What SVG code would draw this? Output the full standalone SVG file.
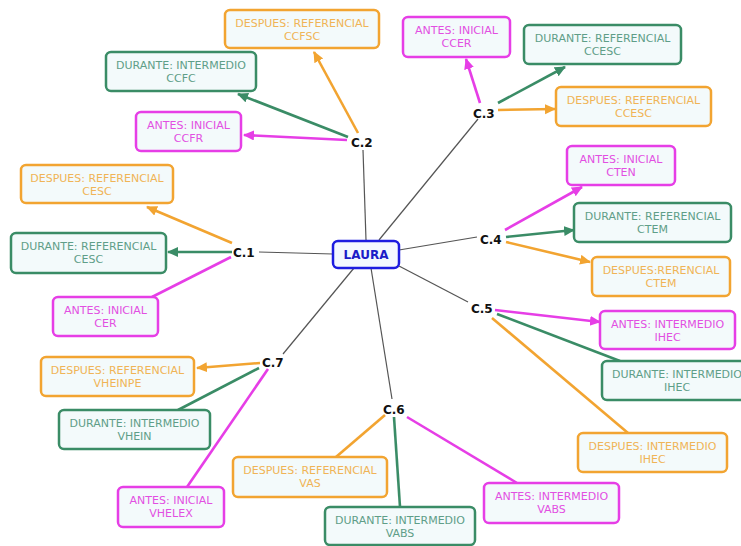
<svg xmlns="http://www.w3.org/2000/svg" width="741" height="546" viewBox="0 0 741 546">
  <style>
    .box { fill: #f3fafb; stroke-width: 2.5; }
    .o { stroke: #f2a431; }
    .g { stroke: #3a8c66; }
    .m { stroke: #e63ee6; }
    .t { font-family: "DejaVu Sans", Verdana, sans-serif; font-size: 11px; text-anchor: middle; }
    .to { fill: #f0b456; }
    .tg { fill: #5f9e88; }
    .tm { fill: #e24fe2; }
    .hub { font-family: "DejaVu Sans", Verdana, sans-serif; font-size: 12px; font-weight: bold; fill: #111; }
    .trunk { stroke: #555; stroke-width: 1.2; fill: none; }
    .lo { stroke: #f2a431; stroke-width: 2.6; fill: none; }
    .lg { stroke: #3a8c66; stroke-width: 2.6; fill: none; }
    .lm { stroke: #e63ee6; stroke-width: 2.6; fill: none; }
  </style>
  <defs>
    <marker id="ao" markerUnits="userSpaceOnUse" markerWidth="12" markerHeight="11" refX="10" refY="5" orient="auto">
      <path d="M0,0 L11,5 L0,10 z" fill="#f2a431"/>
    </marker>
    <marker id="ag" markerUnits="userSpaceOnUse" markerWidth="12" markerHeight="11" refX="10" refY="5" orient="auto">
      <path d="M0,0 L11,5 L0,10 z" fill="#3a8c66"/>
    </marker>
    <marker id="am" markerUnits="userSpaceOnUse" markerWidth="12" markerHeight="11" refX="10" refY="5" orient="auto">
      <path d="M0,0 L11,5 L0,10 z" fill="#e63ee6"/>
    </marker>
  </defs>

  <rect width="741" height="546" fill="#ffffff"/>

  <!-- connectors -->
  <g id="connectors">
    <!-- trunk lines from the centre -->
    <line class="trunk" x1="333" y1="254" x2="259" y2="252"/>
    <line class="trunk" x1="366" y1="240" x2="363" y2="150"/>
    <line class="trunk" x1="379" y1="240" x2="478" y2="119"/>
    <line class="trunk" x1="399" y1="250" x2="477" y2="237"/>
    <line class="trunk" x1="399" y1="266" x2="468" y2="302"/>
    <line class="trunk" x1="371" y1="268" x2="392" y2="399"/>
    <line class="trunk" x1="354" y1="268" x2="283" y2="354"/>

    <!-- C.1 -->
    <line class="lo" x1="232" y1="243" x2="147" y2="207" marker-end="url(#ao)"/>
    <line class="lg" x1="232" y1="252" x2="168" y2="252" marker-end="url(#ag)"/>
    <line class="lm" x1="231" y1="257" x2="152" y2="297"/>
    <!-- C.2 -->
    <line class="lo" x1="358" y1="133" x2="314" y2="52" marker-end="url(#ao)"/>
    <line class="lg" x1="348" y1="137" x2="238" y2="94" marker-end="url(#ag)"/>
    <line class="lm" x1="347" y1="140" x2="244" y2="135" marker-end="url(#am)"/>
    <!-- C.3 -->
    <line class="lm" x1="480" y1="103" x2="466" y2="59" marker-end="url(#am)"/>
    <line class="lg" x1="498" y1="103" x2="565" y2="67" marker-end="url(#ag)"/>
    <line class="lo" x1="498" y1="110" x2="555" y2="109" marker-end="url(#ao)"/>
    <!-- C.4 -->
    <line class="lm" x1="505" y1="230" x2="582" y2="187" marker-end="url(#am)"/>
    <line class="lg" x1="506" y1="237" x2="574" y2="230" marker-end="url(#ag)"/>
    <line class="lo" x1="506" y1="242" x2="590" y2="262" marker-end="url(#ao)"/>
    <!-- C.5 -->
    <line class="lm" x1="495" y1="310" x2="600" y2="322" marker-end="url(#am)"/>
    <line class="lg" x1="497" y1="314" x2="620" y2="361"/>
    <line class="lo" x1="492" y1="318" x2="628" y2="433"/>
    <!-- C.6 -->
    <line class="lo" x1="385" y1="415" x2="336" y2="457"/>
    <line class="lg" x1="394" y1="417" x2="400" y2="507"/>
    <line class="lm" x1="407" y1="417" x2="517" y2="483"/>
    <!-- C.7 -->
    <line class="lo" x1="260" y1="363" x2="197" y2="368" marker-end="url(#ao)"/>
    <line class="lg" x1="259" y1="368" x2="178" y2="410"/>
    <line class="lm" x1="268" y1="369" x2="187" y2="487"/>
  </g>

  <!-- centre node -->
  <g id="laura">
    <rect x="333" y="241" width="66" height="27" rx="5" fill="#f3f8ff" stroke="#1c1ce0" stroke-width="2.5"/>
    <text x="366" y="259" font-family="DejaVu Sans, Verdana, sans-serif" font-size="12" font-weight="bold" fill="#1c1cc8" text-anchor="middle">LAURA</text>
  </g>

  <!-- hub labels -->
  <g id="c1"><text class="hub" x="233" y="257">C.1</text></g>
  <g id="c2"><text class="hub" x="351" y="147">C.2</text></g>
  <g id="c3"><text class="hub" x="473" y="118">C.3</text></g>
  <g id="c4"><text class="hub" x="480" y="244">C.4</text></g>
  <g id="c5"><text class="hub" x="471" y="313">C.5</text></g>
  <g id="c6"><text class="hub" x="383" y="414">C.6</text></g>
  <g id="c7"><text class="hub" x="262" y="367">C.7</text></g>

  <!-- C.2 leaves -->
  <g id="n-ccfsc">
    <rect class="box o" x="225" y="10" width="154" height="38" rx="5"/>
    <text class="t to" x="302" y="27">DESPUES: REFERENCIAL</text>
    <text class="t to" x="302" y="40">CCFSC</text>
  </g>
  <g id="n-ccfc">
    <rect class="box g" x="106" y="52" width="150" height="39" rx="5"/>
    <text class="t tg" x="181" y="69">DURANTE: INTERMEDIO</text>
    <text class="t tg" x="181" y="82">CCFC</text>
  </g>
  <g id="n-ccfr">
    <rect class="box m" x="136" y="112" width="105" height="39" rx="5"/>
    <text class="t tm" x="188.5" y="129">ANTES: INICIAL</text>
    <text class="t tm" x="188.5" y="142">CCFR</text>
  </g>

  <!-- C.1 leaves -->
  <g id="n-cesc-d">
    <rect class="box o" x="21" y="165" width="152" height="38" rx="5"/>
    <text class="t to" x="97" y="182">DESPUES: REFERENCIAL</text>
    <text class="t to" x="97" y="195">CESC</text>
  </g>
  <g id="n-cesc-r">
    <rect class="box g" x="11" y="233" width="155" height="40" rx="5"/>
    <text class="t tg" x="88.5" y="250">DURANTE: REFERENCIAL</text>
    <text class="t tg" x="88.5" y="263">CESC</text>
  </g>
  <g id="n-cer">
    <rect class="box m" x="53" y="297" width="105" height="39" rx="5"/>
    <text class="t tm" x="105.5" y="314">ANTES: INICIAL</text>
    <text class="t tm" x="105.5" y="327">CER</text>
  </g>

  <!-- C.7 leaves -->
  <g id="n-vheinpe">
    <rect class="box o" x="41" y="357" width="153" height="39" rx="5"/>
    <text class="t to" x="117.5" y="374">DESPUES: REFERENCIAL</text>
    <text class="t to" x="117.5" y="387">VHEINPE</text>
  </g>
  <g id="n-vhein">
    <rect class="box g" x="59" y="410" width="151" height="39" rx="5"/>
    <text class="t tg" x="134.5" y="427">DURANTE: INTERMEDIO</text>
    <text class="t tg" x="134.5" y="440">VHEIN</text>
  </g>
  <g id="n-vhelex">
    <rect class="box m" x="118" y="487" width="106" height="40" rx="5"/>
    <text class="t tm" x="171" y="504">ANTES: INICIAL</text>
    <text class="t tm" x="171" y="517">VHELEX</text>
  </g>

  <!-- C.6 leaves -->
  <g id="n-vas">
    <rect class="box o" x="233" y="457" width="154" height="40" rx="5"/>
    <text class="t to" x="310" y="474">DESPUES: REFERENCIAL</text>
    <text class="t to" x="310" y="487">VAS</text>
  </g>
  <g id="n-vabs-d">
    <rect class="box g" x="325" y="507" width="150" height="38" rx="5"/>
    <text class="t tg" x="400" y="524">DURANTE: INTERMEDIO</text>
    <text class="t tg" x="400" y="537">VABS</text>
  </g>
  <g id="n-vabs-a">
    <rect class="box m" x="484" y="483" width="135" height="40" rx="5"/>
    <text class="t tm" x="551.5" y="500">ANTES: INTERMEDIO</text>
    <text class="t tm" x="551.5" y="513">VABS</text>
  </g>

  <!-- C.5 leaves -->
  <g id="n-ihec-d">
    <rect class="box o" x="578" y="433" width="149" height="39" rx="5"/>
    <text class="t to" x="652.5" y="450">DESPUES: INTERMEDIO</text>
    <text class="t to" x="652.5" y="463">IHEC</text>
  </g>
  <g id="n-ihec-r">
    <rect class="box g" x="602" y="361" width="150" height="39" rx="5"/>
    <text class="t tg" x="677" y="378">DURANTE: INTERMEDIO</text>
    <text class="t tg" x="677" y="391">IHEC</text>
  </g>
  <g id="n-ihec-a">
    <rect class="box m" x="600" y="311" width="135" height="38" rx="5"/>
    <text class="t tm" x="667.5" y="328">ANTES: INTERMEDIO</text>
    <text class="t tm" x="667.5" y="341">IHEC</text>
  </g>

  <!-- C.4 leaves -->
  <g id="n-ctem-d">
    <rect class="box o" x="592" y="257" width="138" height="39" rx="5"/>
    <text class="t to" x="661" y="274">DESPUES:RERENCIAL</text>
    <text class="t to" x="661" y="287">CTEM</text>
  </g>
  <g id="n-ctem-r">
    <rect class="box g" x="574" y="203" width="157" height="39" rx="5"/>
    <text class="t tg" x="652.5" y="220">DURANTE: REFERENCIAL</text>
    <text class="t tg" x="652.5" y="233">CTEM</text>
  </g>
  <g id="n-cten">
    <rect class="box m" x="567" y="146" width="108" height="39" rx="5"/>
    <text class="t tm" x="621" y="163">ANTES: INICIAL</text>
    <text class="t tm" x="621" y="176">CTEN</text>
  </g>

  <!-- C.3 leaves -->
  <g id="n-ccer">
    <rect class="box m" x="403" y="17" width="107" height="40" rx="5"/>
    <text class="t tm" x="456.5" y="34">ANTES: INICIAL</text>
    <text class="t tm" x="456.5" y="47">CCER</text>
  </g>
  <g id="n-ccesc-r">
    <rect class="box g" x="524" y="25" width="157" height="39" rx="5"/>
    <text class="t tg" x="602.5" y="42">DURANTE: REFERENCIAL</text>
    <text class="t tg" x="602.5" y="55">CCESC</text>
  </g>
  <g id="n-ccesc-d">
    <rect class="box o" x="556" y="87" width="155" height="39" rx="5"/>
    <text class="t to" x="633.5" y="104">DESPUES: REFERENCIAL</text>
    <text class="t to" x="633.5" y="117">CCESC</text>
  </g>
</svg>
